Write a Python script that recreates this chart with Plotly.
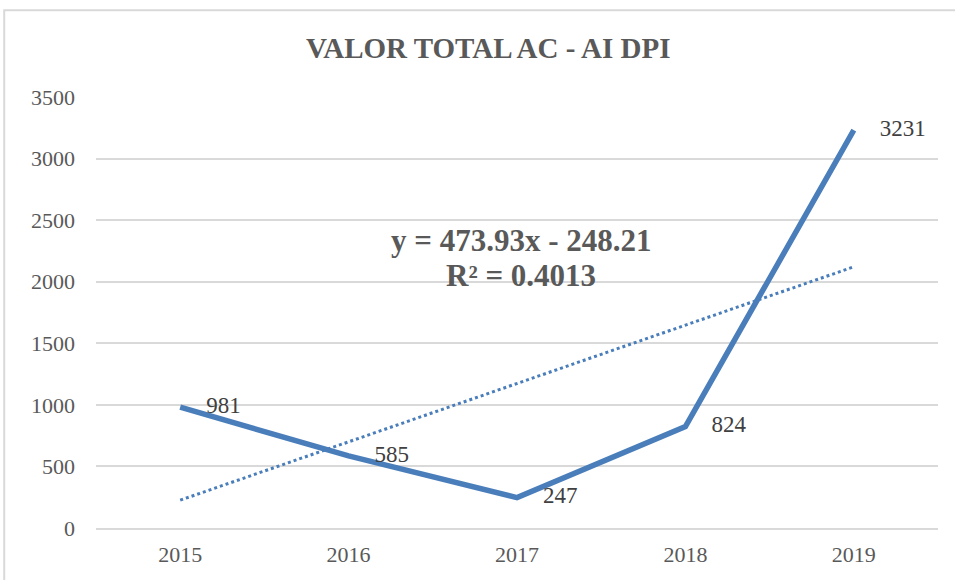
import plotly.graph_objects as go

anos = ['2015', '2016', '2017', '2018', '2019']
valores = [981, 585, 247, 824, 3231]
# linha de tendência linear (y = 473.93x - 248.21)
tendencia = [226, 700, 1174, 1648, 2121]
y_ticks = [0, 500, 1000, 1500, 2000, 2500, 3000, 3500]

azul = '#4A7EBB'
cinza = '#595959'
fonte = 'Liberation Serif'

fig = go.Figure()

fig.add_trace(go.Scatter(
    x=anos, y=tendencia, mode='lines', name='Linear',
    line=dict(color=azul, width=3, dash='dot'),
    hoverinfo='skip'
))

# marcadores transparentes só para afastar os rótulos da linha
fig.add_trace(go.Scatter(
    x=anos, y=valores, mode='lines+markers+text', name='Valor total',
    line=dict(color=azul, width=5.5),
    marker=dict(size=40, color='rgba(0,0,0,0)'),
    text=[str(v) for v in valores],
    textposition='middle right',
    textfont=dict(family=fonte, size=23, color='#404040')
))

fig.update_layout(
    width=955, height=580,
    paper_bgcolor='white', plot_bgcolor='white',
    margin=dict(l=96, r=17, t=97, b=52),
    showlegend=False,
    font=dict(family=fonte, color=cinza),
    xaxis=dict(type='category', range=[-0.5, 4.5], showgrid=False,
               showline=True, linecolor='#d9d9d9', linewidth=1.5,
               ticks='', ticklabelstandoff=6,
               tickfont=dict(size=22, color=cinza), zeroline=False),
    yaxis=dict(range=[0, 3500], tickvals=y_ticks, showgrid=True,
               gridcolor='#d9d9d9', gridwidth=1.5, zeroline=False,
               showline=False, ticks='', ticklabelstandoff=20,
               tickfont=dict(size=22, color=cinza)),
)

# título como anotação (para garantir a fonte serifada)
fig.add_annotation(
    xref='paper', yref='paper', x=0.466, y=1.113, yanchor='middle',
    text='<b>VALOR TOTAL AC - AI DPI</b>',
    showarrow=False, font=dict(family=fonte, size=29, color=cinza)
)

fig.add_annotation(
    xref='paper', yref='paper', x=0.505, y=0.668, yanchor='middle',
    text='<b>y = 473.93x - 248.21</b>',
    showarrow=False, font=dict(family=fonte, size=31, color=cinza)
)
fig.add_annotation(
    xref='paper', yref='paper', x=0.505, y=0.587, yanchor='middle',
    text='<b>R² = 0.4013</b>',
    showarrow=False, font=dict(family=fonte, size=31, color=cinza)
)

# moldura do gráfico
fig.add_shape(type='rect', xref='paper', yref='paper',
              x0=-0.109, x1=1.05, y0=-0.2, y1=1.201,
              line=dict(color='#d9d9d9', width=2), layer='below')

fig.write_html('out.html', config={'displayModeBar': False},
               post_script="document.body.style.margin='0';")
